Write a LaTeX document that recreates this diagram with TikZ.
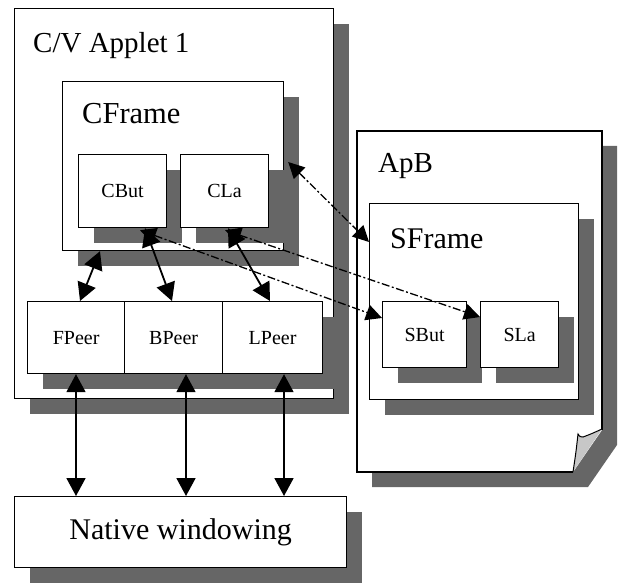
\documentclass[tikz,border=0pt]{standalone}
\usepackage{fontspec}
\setmainfont{Liberation Serif}
\usetikzlibrary{arrows.meta,shadows,calc}
\definecolor{shadowgray}{gray}{0.40}
\definecolor{curlgray}{gray}{0.78}
\begin{document}
\begin{tikzpicture}[x=1pt,y=-1pt,
  shd/.style={drop shadow={shadow xshift=15pt,shadow yshift=-15pt,fill=shadowgray,opacity=1}},
  box/.style={draw,fill=white,line width=1.2pt,inner sep=0pt,anchor=north west,shd},
  big/.style={font=\fontsize{29}{32}\selectfont,anchor=base west,inner sep=0pt},
  bigc/.style={font=\fontsize{30}{32}\selectfont},
  small/.style={font=\fontsize{20}{22}\selectfont},
  arr/.style={{Triangle[length=18pt,width=19pt]}-{Triangle[length=18pt,width=19pt]},line width=1.8pt},
  darr/.style={{Triangle[length=16pt,width=16pt]}-{Triangle[length=16pt,width=16pt]},line width=1.3pt,dash pattern=on 8pt off 2.5pt on 2pt off 2.5pt}]
\useasboundingbox (0,0) rectangle (620,585);

% C/V Applet 1
\node[box,minimum width=319pt,minimum height=390pt] (applet) at (14,8) {};
\node[big] (appletlbl) at (33,53) {C/V Applet 1};
\node[box,minimum width=221pt,minimum height=169pt] (cframe) at (62,81) {};
\node[big,font=\fontsize{30.5}{32}\selectfont] (cframelbl) at (82,124) {CFrame};
\node[box,small,minimum width=88pt,minimum height=73pt] (cbut) at (78,154) {CBut};
\node[box,small,minimum width=88pt,minimum height=73pt] (cla) at (180,154) {CLa};
\node[box,small,minimum width=97pt,minimum height=72pt] (fpeer) at (27,301) {FPeer};
\node[box,small,minimum width=98pt,minimum height=72pt] (bpeer) at (124,301) {BPeer};
\node[box,small,minimum width=100pt,minimum height=72pt] (lpeer) at (222,301) {LPeer};

% Native windowing
\node[box,bigc,minimum width=332pt,minimum height=71pt] (native) at (14,496) {Native windowing};

% ApB page with curled corner
\fill[shadowgray] (372,146) -- (617,146) -- (617,445) -- (588,487) -- (372,487) -- cycle;
\fill[white] (357,131) -- (602,131) -- (602,430) -- (573,472) -- (357,472) -- cycle;
\draw[line width=1.2pt] (602,430) -- (602,131) -- (357,131) -- (357,472) -- (573,472);
\fill[curlgray] (573,472) .. controls (576,452) .. (578,434) -- (583,437) .. controls (591,434) .. (602,429) -- cycle;
\draw[line width=1pt] (573,472) .. controls (576,452) .. (578,434) .. controls (580,437) .. (583,437) .. controls (591,434) .. (602,429);
\node[big] (apblbl) at (378,173) {ApB};
\node[box,minimum width=209pt,minimum height=196pt] (sframe) at (369,203) {};
\node[big,font=\fontsize{30}{32}\selectfont] (sframelbl) at (390,248) {SFrame};
\node[box,small,minimum width=84pt,minimum height=66pt] (sbut) at (382,301) {SBut};
\node[box,small,minimum width=78pt,minimum height=66pt] (sla) at (480,301) {SLa};

% solid connectors
\draw[arr] ([xshift=38pt]cframe.south west) -- ([xshift=53pt]fpeer.north west);
\draw[arr] ([xshift=67pt]cbut.south west) -- ([xshift=48pt]bpeer.north west);
\draw[arr] ([xshift=48pt]cla.south west) -- ([xshift=48pt]lpeer.north west);
\coordinate (f1) at ([xshift=49pt]fpeer.south west);
\coordinate (b1) at ([xshift=62pt]bpeer.south west);
\coordinate (l1) at ([xshift=62pt]lpeer.south west);
\draw[arr] (f1) -- (f1 |- native.north);
\draw[arr] (b1) -- (b1 |- native.north);
\draw[arr] (l1) -- (l1 |- native.north);

% dashed connectors
\draw[darr] ([xshift=4pt,yshift=-81pt]cframe.north east) -- ([yshift=-39pt]sframe.north west);
\draw[darr] ([xshift=62pt,yshift=-2pt]cbut.south west) -- ([yshift=-17pt]sbut.north west);
\draw[darr] ([xshift=45pt,yshift=-2pt]cla.south west) -- ([yshift=-16pt]sla.north west);
\end{tikzpicture}
\end{document}
